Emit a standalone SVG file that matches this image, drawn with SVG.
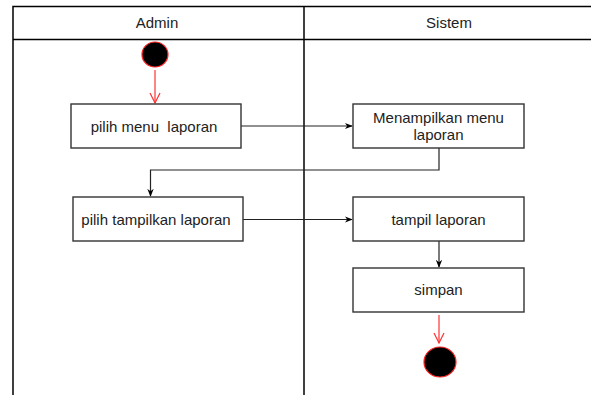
<svg xmlns="http://www.w3.org/2000/svg" width="591" height="395" viewBox="0 0 591 395">
<defs>
<style>
.lane{stroke:#000;stroke-width:1.5;fill:none}
.box{fill:#fff;stroke:#333;stroke-width:1.4}
.t{font-family:"Liberation Sans",Arial,sans-serif;font-size:15px;fill:#222;text-anchor:middle}
.c{stroke:#222;stroke-width:1.2;fill:none}
.r{stroke:#ff3333;stroke-width:1.2;fill:none}
.dot{fill:#000;stroke:#ff2222;stroke-width:1.2}
</style>
<marker id="ah" viewBox="0 0 10 10" refX="9" refY="5" markerWidth="8" markerHeight="8" orient="auto" markerUnits="userSpaceOnUse">
<path d="M0,1 L10,5 L0,9 L3,5 Z" fill="#000"/>
</marker>
<marker id="ro" viewBox="0 0 12 12" refX="11" refY="6" markerWidth="12" markerHeight="12" orient="auto" markerUnits="userSpaceOnUse">
<path d="M1,1 L11,6 L1,11" fill="none" stroke="#ff3333" stroke-width="1.2"/>
</marker>
</defs>
<rect width="591" height="395" fill="#fff"/>
<g id="lanes">
<path class="lane" d="M13,395 V6.5 H591"/>
<path class="lane" d="M13,39.5 H591"/>
<path class="lane" d="M304,6.5 V395"/>
<text class="t" x="157" y="27.5">Admin</text>
<text class="t" x="449" y="27.5">Sistem</text>
</g>
<g id="connectors">
<path class="r" d="M155,70 V103" marker-end="url(#ro)"/>
<path class="c" d="M241,126 H352" marker-end="url(#ah)"/>
<path class="c" d="M439,148 V170 H150.5 V196" marker-end="url(#ah)"/>
<path class="c" d="M243,219.5 H352" marker-end="url(#ah)"/>
<path class="c" d="M439,241 V267" marker-end="url(#ah)"/>
<path class="r" d="M439,315 V343" marker-end="url(#ro)"/>
</g>
<g id="start"><ellipse class="dot" cx="155" cy="54.5" rx="13" ry="12.5"/></g>
<g id="n1"><rect class="box" x="71" y="104" width="170" height="44"/><text class="t" x="154" y="131.5" xml:space="preserve">pilih menu  laporan</text></g>
<g id="n2"><rect class="box" x="353" y="104" width="171" height="44"/><text class="t" x="438.5" y="123">Menampilkan menu</text><text class="t" x="438.5" y="140">laporan</text></g>
<g id="n3"><rect class="box" x="73" y="197" width="170" height="44"/><text class="t" x="156" y="224.5">pilih tampilkan laporan</text></g>
<g id="n4"><rect class="box" x="353" y="197" width="171" height="44"/><text class="t" x="438.5" y="224.5">tampil laporan</text></g>
<g id="n5"><rect class="box" x="353" y="268" width="171" height="44"/><text class="t" x="438.5" y="295">simpan</text></g>
<g id="end"><ellipse class="dot" cx="440" cy="362" rx="16" ry="15"/></g>
</svg>
